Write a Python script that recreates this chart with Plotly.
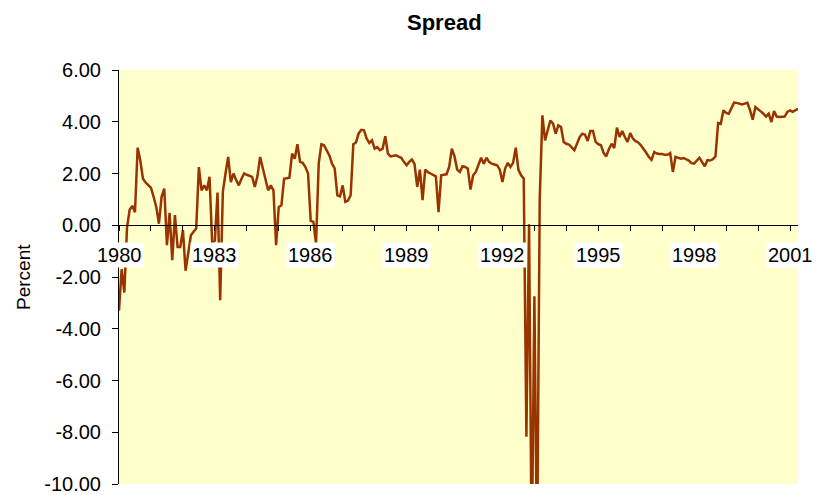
import plotly.graph_objects as go

# Monthly spread values, Jan 1980 .. Apr 2001 (percent)
spread_1980 = [-3.3, -1.7, -2.6, -0.1, 0.6, 0.75, 0.5, 3.0, 2.5, 1.8, 1.65, 1.55]
spread_1981 = [1.45, 1.1, 0.7, 0.06, 1.1, 1.42, -0.77, 0.48, -1.35, 0.39, -0.84, -0.84]
spread_1982 = [-0.19, -1.76, -0.97, -0.39, -0.25, -0.13, 2.25, 1.35, 1.54, 1.35, 1.87, -0.7]
spread_1983 = [-0.6, 1.26, -2.9, 1.29, 2.0, 2.64, 1.67, 2.0, 1.75, 1.54, 1.8, 2.0]
spread_1984 = [1.95, 1.9, 1.87, 1.48, 1.9, 2.64, 2.19, 1.8, 1.35, 1.54, 1.35, -0.77]
spread_1985 = [0.71, 0.77, 1.8, 1.82, 1.84, 2.77, 2.57, 3.13, 2.45, 2.41, 2.25, 2.0]
spread_1986 = [0.17, 0.13, -0.71, 2.38, 3.13, 3.09, 2.9, 2.7, 2.38, 2.2, 1.16, 1.12]
spread_1987 = [1.54, 0.9, 0.95, 1.16, 3.13, 3.2, 3.55, 3.69, 3.67, 3.35, 3.18, 3.28]
spread_1988 = [2.96, 3.02, 2.9, 2.96, 3.44, 2.77, 2.66, 2.68, 2.7, 2.65, 2.61, 2.45]
spread_1989 = [2.32, 2.45, 2.54, 2.36, 1.48, 2.15, 0.97, 2.15, 2.05, 2.0, 1.93, 1.89]
spread_1990 = [0.51, 1.93, 1.95, 1.97, 2.25, 2.96, 2.66, 2.15, 2.06, 2.28, 2.25, 2.19]
spread_1991 = [1.38, 1.93, 2.06, 2.35, 2.61, 2.38, 2.61, 2.45, 2.38, 2.35, 2.32, 2.15]
spread_1992 = [1.67, 2.19, 2.41, 2.25, 2.41, 3.0, 2.15, 1.93, 1.8, -8.17, 0.04, -13.0]
spread_1993 = [-2.74, -13.0, 1.0, 4.25, 3.28, 3.67, 4.05, 3.93, 3.54, 3.86, 3.8, 3.22]
spread_1994 = [3.15, 3.12, 3.0, 2.9, 3.15, 3.41, 3.54, 3.5, 3.26, 3.64, 3.64, 3.22]
spread_1995 = [3.13, 3.09, 2.8, 2.66, 2.95, 3.15, 2.98, 3.77, 3.41, 3.64, 3.4, 3.22]
spread_1996 = [3.56, 3.35, 3.25, 3.2, 3.09, 2.92, 2.8, 2.64, 2.53, 2.83, 2.77, 2.75]
spread_1997 = [2.75, 2.72, 2.72, 2.79, 2.06, 2.64, 2.6, 2.57, 2.6, 2.55, 2.5, 2.4]
spread_1998 = [2.38, 2.5, 2.61, 2.44, 2.28, 2.52, 2.5, 2.55, 2.66, 3.95, 3.92, 4.44]
spread_1999 = [4.34, 4.31, 4.5, 4.74, 4.73, 4.7, 4.67, 4.7, 4.73, 4.44, 4.08, 4.57]
spread_2000 = [4.5, 4.4, 4.31, 4.2, 4.31, 3.99, 4.41, 4.2, 4.18, 4.18, 4.2, 4.38]
spread_2001 = [4.44, 4.38, 4.45, 4.5]

spread = (spread_1980 + spread_1981 + spread_1982 + spread_1983 + spread_1984 +
          spread_1985 + spread_1986 + spread_1987 + spread_1988 + spread_1989 +
          spread_1990 + spread_1991 + spread_1992 + spread_1993 + spread_1994 +
          spread_1995 + spread_1996 + spread_1997 + spread_1998 + spread_1999 +
          spread_2000 + spread_2001)
months = list(range(len(spread)))

year_labels = ["1980", "1983", "1986", "1989", "1992", "1995", "1998", "2001"]
label_months = [0, 36, 72, 108, 144, 180, 216, 252]
y_ticks = [6, 4, 2, 0, -2, -4, -6, -8, -10]

W, H = 817, 495
L, R, T, B = 119, 19, 70, 11
pw = W - L - R

FONT = "Liberation Sans, Arial, sans-serif"

fig = go.Figure()
fig.add_trace(go.Scatter(x=months, y=spread, mode="lines",
                         line=dict(color="#993300", width=2.5), hoverinfo="skip"))

annotations = []
for m, lab in zip(label_months, year_labels):
    annotations.append(dict(x=m, y=0, xref="x", yref="y", text=lab, showarrow=False,
                            yanchor="middle", xanchor="center", yshift=-30,
                            bgcolor="white", borderpad=1,
                            font=dict(family=FONT, size=20, color="black")))
annotations.append(dict(x=(444 - L) / pw, y=1, xref="paper", yref="paper", text="<b>Spread</b>",
                        showarrow=False, yanchor="middle", xanchor="center", yshift=48,
                        font=dict(family=FONT, size=22, color="black")))
annotations.append(dict(x=(23 - L) / pw, y=0.5, xref="paper", yref="paper", text="Percent",
                        showarrow=False, textangle=-90, xanchor="center", yanchor="middle",
                        font=dict(family=FONT, size=19, color="black")))

fig.update_layout(
    width=W, height=H,
    margin=dict(l=L, r=R, t=T, b=B, autoexpand=False),
    paper_bgcolor="white", plot_bgcolor="#FFFFCC",
    showlegend=False,
    annotations=annotations,
    xaxis=dict(range=[0, 255], tickmode="linear", tick0=0, dtick=12,
               ticks="outside", ticklen=5, tickcolor="black", tickwidth=1,
               showticklabels=False, showgrid=False, zeroline=False,
               showline=True, linecolor="black", linewidth=1,
               anchor="free", position=10 / 16),
    yaxis=dict(range=[-10, 6], tickmode="array", tickvals=y_ticks,
               ticktext=[f"{v:.2f}" for v in y_ticks],
               ticks="outside", ticklen=6, tickcolor="black", tickwidth=1,
               ticklabelstandoff=7,
               tickfont=dict(family=FONT, size=20, color="black"),
               showgrid=False, zeroline=False,
               showline=True, linecolor="black", linewidth=1),
)

fig.write_html("out.html", config={"displayModeBar": False},
               post_script="document.body.style.margin='0px';document.body.style.overflow='hidden';")
